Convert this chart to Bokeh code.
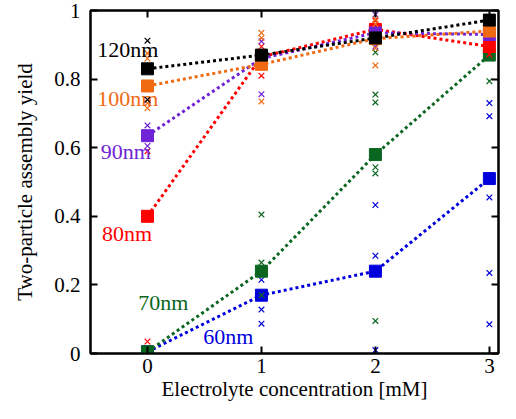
from bokeh.plotting import figure
from bokeh.models import LinearAxis, FixedTicker, CustomJSTickFormatter
from bokeh.core.properties import value
from bokeh.embed import file_html
from bokeh.resources import INLINE

conc = [0, 1, 2, 3]

labels = ["60nm", "70nm", "80nm", "90nm", "100nm", "120nm"]
colors = ["#0000dd", "#0a6620", "#ff0000", "#7022d6", "#f06a12", "#000000"]

mean_60 = [0.005, 0.17, 0.24, 0.51]
mean_70 = [0.005, 0.24, 0.58, 0.87]
mean_80 = [0.40, 0.865, 0.945, 0.895]
mean_90 = [0.635, 0.86, 0.935, 0.93]
mean_100 = [0.78, 0.843, 0.918, 0.94]
mean_120 = [0.83, 0.87, 0.92, 0.972]

# individual measurements
ind_60_x = [1, 1, 1, 2, 2, 2, 3, 3, 3, 3, 3]
ind_60_y = [0.215, 0.128, 0.087, 0.433, 0.285, 0.01, 0.73, 0.692, 0.455, 0.235, 0.085]
ind_70_x = [1, 1, 1, 2, 2, 2, 2, 2, 2, 3, 3]
ind_70_y = [0.405, 0.265, 0.17, 0.878, 0.755, 0.732, 0.543, 0.525, 0.095, 0.92, 0.794]
ind_80_x = [0, 0, 1, 1, 2, 3]
ind_80_y = [0.59, 0.035, 0.895, 0.81, 0.97, 0.872]
ind_90_x = [0, 0, 1, 1, 2, 2]
ind_90_y = [0.665, 0.605, 0.91, 0.756, 0.988, 0.895]
ind_100_x = [0, 0, 0, 0, 1, 1, 1, 2, 2, 2, 2]
ind_100_y = [0.875, 0.86, 0.73, 0.715, 0.935, 0.92, 0.735, 0.974, 0.96, 0.89, 0.84]
ind_120_x = [0, 0]
ind_120_y = [0.912, 0.74]

# label anchor positions (data coords)
label_x = [0.49, -0.08, -0.40, -0.41, -0.44, -0.44]
label_y = [0.049, 0.148, 0.349, 0.59, 0.744, 0.887]

means = [mean_60, mean_70, mean_80, mean_90, mean_100, mean_120]
ind_x = [ind_60_x, ind_70_x, ind_80_x, ind_90_x, ind_100_x, ind_120_x]
ind_y = [ind_60_y, ind_70_y, ind_80_y, ind_90_y, ind_100_y, ind_120_y]

FONT = "'Liberation Serif', 'Times New Roman', serif"

p = figure(width=500, height=403, x_range=(-0.5, 3.08), y_range=(0, 1),
           output_backend="svg", toolbar_location=None,
           min_border_left=90, min_border_right=2, min_border_top=10,
           min_border_bottom=48)

p.xgrid.visible = False
p.ygrid.visible = False
p.outline_line_color = "black"
p.outline_line_width = 2

fmt = CustomJSTickFormatter(code="return Number(tick.toFixed(1)).toString();")
blank = CustomJSTickFormatter(code="return '';")

def style_axis(ax, labelled=True):
    ax.axis_line_width = 2
    ax.axis_line_color = "black"
    ax.major_tick_in = 7
    ax.major_tick_out = 0
    ax.major_tick_line_width = 2
    ax.minor_tick_in = 0
    ax.minor_tick_out = 0
    if labelled:
        ax.formatter = fmt
        ax.major_label_text_font = FONT
        ax.major_label_text_font_size = "21px"
        ax.major_label_text_color = "black"
        ax.axis_label_text_font = FONT
        ax.axis_label_text_font_size = "21px"
        ax.axis_label_text_font_style = "normal"
        ax.axis_label_text_color = "black"
    else:
        ax.formatter = blank
        ax.major_label_text_font_size = "1px"
        ax.major_label_standoff = 0
        ax.axis_label = None

p.xaxis.ticker = FixedTicker(ticks=conc)
p.yaxis.ticker = FixedTicker(ticks=[0, 0.2, 0.4, 0.6, 0.8, 1.0])
style_axis(p.xaxis[0])
style_axis(p.yaxis[0])
p.xaxis.axis_label = "Electrolyte concentration [mM]"
p.yaxis.axis_label = "Two-particle assembly yield"
p.xaxis.major_label_standoff = 5
p.xaxis.axis_label_standoff = 1
p.yaxis.major_label_standoff = 10
p.yaxis.axis_label_standoff = 14

top = LinearAxis(ticker=FixedTicker(ticks=conc))
right = LinearAxis(ticker=FixedTicker(ticks=[0, 0.2, 0.4, 0.6, 0.8, 1.0]))
style_axis(top, labelled=False)
style_axis(right, labelled=False)
p.add_layout(top, "above")
p.add_layout(right, "right")

for m, xs, ys, c, lab, lx, ly in zip(means, ind_x, ind_y, colors, labels, label_x, label_y):
    p.scatter(xs, ys, marker="x", size=8, line_color=c, line_width=1.2)
    p.line(conc, m, line_color=c, line_width=3, line_dash="3 3")
    p.scatter(conc, m, marker="square", size=12, fill_color=c, line_color=c)
    p.text([lx], [ly], text=[lab], text_color=c, text_font=value(FONT),
           text_font_size=value("22px"), text_baseline="middle", text_align="left")

open("out.html", "w").write(file_html(p, INLINE))
